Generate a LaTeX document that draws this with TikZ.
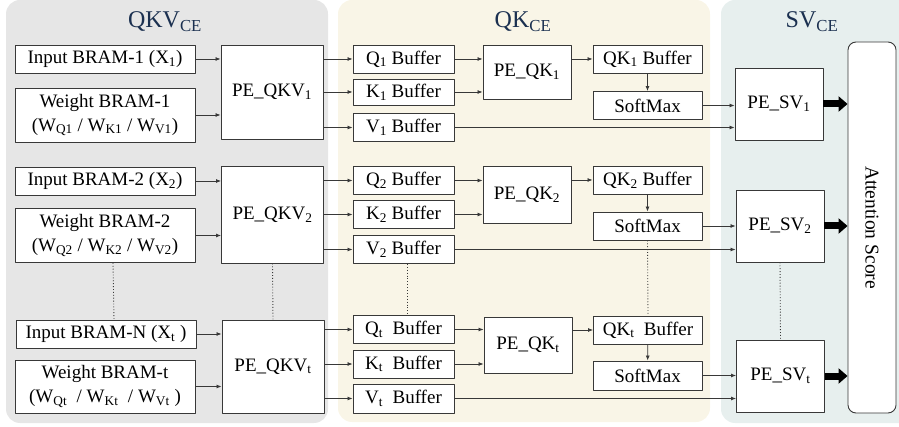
\documentclass[tikz,border=0pt]{standalone}
\usepackage{fontspec}
\setmainfont{Liberation Serif}
\usetikzlibrary{arrows.meta}

\definecolor{qkvbg}{HTML}{E6E6E6}
\definecolor{qkbg}{HTML}{F9F5E7}
\definecolor{svbg}{HTML}{E7EFEE}
\definecolor{ttlblue}{HTML}{1B3050}
\definecolor{edge}{HTML}{383838}

\tikzset{
  blk/.style={draw=edge, fill=white, line width=0.9pt, inner sep=0pt, align=center,
    font=\fontsize{19}{24}\selectfont},
  inbox/.style={blk, minimum width=180, minimum height=28},
  wbox/.style={blk, minimum width=180, minimum height=54},
  pebox/.style={blk, minimum width=102},
  bufbox/.style={blk, minimum width=101, minimum height=28},
  qkbox/.style={blk, minimum width=88},
  smbox/.style={blk, minimum width=109, minimum height=28},
  svbox/.style={blk, minimum width=88, minimum height=72},
  lnk/.style={draw=edge, line width=0.8pt, -{Latex[length=5pt,width=4pt]}},
  dots/.style={draw=edge, line width=0.9pt, dotted},
  fat/.style={line width=7pt, -{Triangle[length=9pt,width=15pt]}},
  panel/.style={rounded corners=14pt},
  ttl/.style={font=\fontsize{24}{28}\selectfont, text=ttlblue},
}

\begin{document}
\begin{tikzpicture}[x=1pt,y=-1pt,line join=round]
  \useasboundingbox (0,0) rectangle (899,427);

  % background panels
  \begin{scope}
    \clip (0,0) rectangle (899,427);
    \fill[qkvbg,panel] (6,0) rectangle (328,423);
    \fill[qkbg,panel] (338,0) rectangle (710,422);
    \fill[svbg,panel] (721,0) rectangle (915,423);
  \end{scope}

  \node[ttl] (tqkv) at (165,22) {QKV\textsubscript{CE}};
  \node[ttl] (tqk) at (523,22) {QK\textsubscript{CE}};
  \node[ttl] (tsv) at (812,22) {SV\textsubscript{CE}};

  % row 1
  \node[inbox] (inp1) at (105,59) {Input BRAM-1 (X\textsubscript{1})};
  \node[wbox] (wgt1) at (105,115) {Weight BRAM-1\\(W\textsubscript{Q1} / W\textsubscript{K1} / W\textsubscript{V1})};
  \node[pebox, minimum height=94] (pqkv1) at (272,92) {PE\_QKV\textsubscript{1}};
  \node[bufbox] (qb1) at (403.5,59) {Q\textsubscript{1} Buffer};
  \node[bufbox, minimum height=26] (kb1) at (403.5,92) {K\textsubscript{1} Buffer};
  \node[bufbox] (vb1) at (403.5,127.5) {V\textsubscript{1} Buffer};
  \node[qkbox, minimum height=54] (pqk1) at (527,72) {PE\_QK\textsubscript{1}};
  \node[smbox] (qkb1) at (647.5,59) {QK\textsubscript{1} Buffer};
  \node[smbox] (sm1) at (647.5,105.5) {SoftMax};
  \node[svbox] (psv1) at (779,104) {PE\_SV\textsubscript{1}};

  % row 2
  \node[inbox] (inp2) at (105,181) {Input BRAM-2 (X\textsubscript{2})};
  \node[wbox] (wgt2) at (105,235.5) {Weight BRAM-2\\(W\textsubscript{Q2} / W\textsubscript{K2} / W\textsubscript{V2})};
  \node[pebox, minimum height=97] (pqkv2) at (272.5,214.5) {PE\_QKV\textsubscript{2}};
  \node[bufbox] (qb2) at (403.5,180.5) {Q\textsubscript{2} Buffer};
  \node[bufbox] (kb2) at (403.5,214.5) {K\textsubscript{2} Buffer};
  \node[bufbox] (vb2) at (403.5,249.5) {V\textsubscript{2} Buffer};
  \node[qkbox, minimum height=57] (pqk2) at (527,194.5) {PE\_QK\textsubscript{2}};
  \node[smbox] (qkb2) at (647.5,180) {QK\textsubscript{2} Buffer};
  \node[smbox] (sm2) at (647.5,226) {SoftMax};
  \node[svbox] (psv2) at (780,226) {PE\_SV\textsubscript{2}};

  % row t
  \node[inbox] (inpt) at (106,334) {Input BRAM-N (X\textsubscript{t} )};
  \node[wbox, minimum height=53] (wgtt) at (105,386.5) {Weight BRAM-t\\(W\textsubscript{Qt}~ / W\textsubscript{Kt}~ / W\textsubscript{Vt} )};
  \node[pebox, minimum height=93] (pqkvt) at (273,366.5) {PE\_QKV\textsubscript{t}};
  \node[bufbox] (qbt) at (403.5,329.5) {Q\textsubscript{t}~ Buffer};
  \node[bufbox] (kbt) at (403.5,364) {K\textsubscript{t}~ Buffer};
  \node[bufbox, minimum height=29] (vbt) at (403.5,398.5) {V\textsubscript{t}~ Buffer};
  \node[qkbox, minimum height=56] (pqkt) at (528,345) {PE\_QK\textsubscript{t}};
  \node[smbox] (qkbt) at (648,330) {QK\textsubscript{t}~ Buffer};
  \node[smbox, minimum height=29] (smt) at (647.5,375.5) {SoftMax};
  \node[svbox] (psvt) at (780.5,376) {PE\_SV\textsubscript{t}};

  % attention score
  \node[blk, rounded corners=8pt, minimum width=48, minimum height=371] (att) at (872,227.5) {};
  \node[rotate=-90, font=\fontsize{19.5}{22}\selectfont] (atttxt) at (att) {Attention Score};

  \foreach \r in {1,2,t} {
    \draw[lnk] (inp\r) -- (pqkv\r.west |- inp\r);
    \draw[lnk] (wgt\r) -- (pqkv\r.west |- wgt\r);
    \draw[lnk] (pqkv\r.east |- qb\r) -- (qb\r);
    \draw[lnk] (pqkv\r.east |- kb\r) -- (kb\r);
    \draw[lnk] (pqkv\r.east |- vb\r) -- (vb\r);
    \draw[lnk] (qb\r) -- (pqk\r.west |- qb\r);
    \draw[lnk] (kb\r) -- (pqk\r.west |- kb\r);
    \draw[lnk] (pqk\r.east |- qkb\r) -- (qkb\r);
    \draw[lnk] (qkb\r) -- (sm\r);
    \draw[lnk] (sm\r) -- (psv\r.west |- sm\r);
    \draw[lnk] (vb\r) -- (psv\r.west |- vb\r);
    \draw[fat] (psv\r.east) -- (att.west |- psv\r.east);
  }

  % dotted continuation
  \draw[dots] ([xshift=8pt]wgt2.south) -- ([xshift=8pt]inpt.north);
  \draw[dots] (pqkv2.south) -- (pqkvt.north);
  \draw[dots] ([xshift=4pt]vb2.south) -- ([xshift=4pt]qbt.north);
  \draw[dots] (sm2.south) -- (qkbt.north);
  \draw[dots] (psv2.south) -- (psvt.north);
\end{tikzpicture}
\end{document}
